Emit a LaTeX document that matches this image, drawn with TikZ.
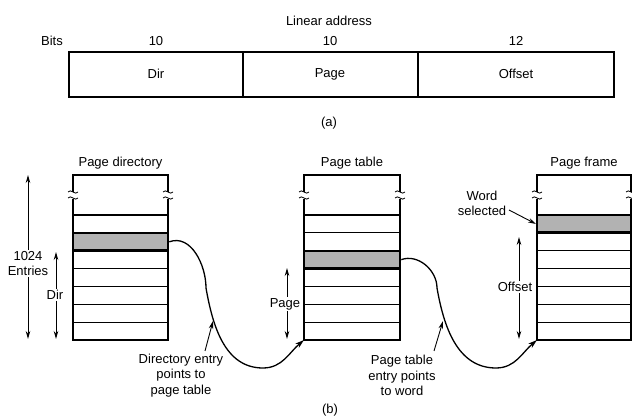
\documentclass[tikz,border=0pt]{standalone}
\usepackage{fontspec}
\setmainfont{Liberation Sans}
\usetikzlibrary{arrows.meta}
\definecolor{rowgray}{RGB}{178,178,178}
\begin{document}
\begin{tikzpicture}[x=1pt,y=-1pt,
  txt/.style={font=\fontsize{13}{15.5}\selectfont,inner sep=1pt,align=center},
  thin/.style={line width=1.2pt},
  selrow/.style={draw,line width=2.6pt,fill=rowgray,minimum width=#1,minimum height=17.5pt,inner sep=0pt},
  arr/.style={line width=0.9pt,-{Stealth[length=8pt,width=4.5pt]}},
  curve/.style={line width=1.3pt,-{Stealth[length=9pt,width=5.5pt]}}
]
\useasboundingbox (0,0) rectangle (632,419);
\def\rh{17.857}
% ---------- (a) ----------
\node[txt] (la) at (329,21) {Linear address};
\node[txt] (bits) at (52,41) {Bits};
\node[txt] (b1) at (156,41) {10};
\node[txt] (b2) at (330,41) {10};
\node[txt] (b3) at (516,41) {12};
\draw[thin] (69,52) rectangle (614,97);
\draw[thin] (243,52) -- (243,97);
\draw[thin] (418,52) -- (418,97);
\node[txt] (fdir) at (156,74) {Dir};
\node[txt] (fpage) at (330,74) {Page};
\node[txt] (foff) at (516,74) {Offset};
\node[txt] (capa) at (329,123) {(a)};
% ---------- tables ----------
\newcommand{\brk}[2]{%
  \draw[line width=0.8pt] (#1-5,#2-2) .. controls (#1-2,#2-6) and (#1+2,#2+2) .. (#1+5,#2-2);
  \draw[line width=0.8pt] (#1-5,#2+4) .. controls (#1-2,#2) and (#1+2,#2+8) .. (#1+5,#2+4);}
\newcommand{\tbl}[2]{%
  \draw[thin] (#1,192) -- (#1,175) -- (#2,175) -- (#2,192);
  \draw[thin] (#1,199) -- (#1,340) -- (#2,340) -- (#2,199);
  \foreach \k in {0,...,6} {\draw[thin] (#1,215+\k*\rh) -- (#2,215+\k*\rh);}
  \brk{#1}{194}\brk{#2}{194}}
\tbl{73}{168}
\tbl{304}{400}
\tbl{537}{631}
\node[selrow=95pt] (g1) at (120.5,215+1.5*\rh) {};
\node[selrow=96pt] (g2) at (352,215+2.5*\rh) {};
\node[selrow=94pt] (g3) at (584,215+0.5*\rh) {};
\coordinate (t2sw) at (304,340);
\coordinate (t3sw) at (537,340);
\coordinate (g3w) at (536,224);
% titles
\node[txt] (tdir) at (120.5,163) {Page directory};
\node[txt] (ttab) at (352,163) {Page table};
\node[txt] (tfr) at (584,163) {Page frame};
% side arrows
\node[txt] (n1024) at (28,263.5) {1024\\Entries};
\coordinate (a1t) at (28,175); \coordinate (a1b) at (28,339);
\draw[arr] (n1024.north) -- (a1t);
\draw[arr] (n1024.south) -- (a1b);
\node[txt] (ndir) at (55,295) {Dir};
\coordinate (a2t) at (56,252); \coordinate (a2b) at (56,339);
\draw[arr] (ndir.north-|a2t) -- (a2t);
\draw[arr] (ndir.south-|a2b) -- (a2b);
\node[txt] (npage) at (285,304) {Page};
\coordinate (a3t) at (287,268); \coordinate (a3b) at (287,339);
\draw[arr] (npage.north-|a3t) -- (a3t);
\draw[arr] (npage.south-|a3b) -- (a3b);
\node[txt] (noff) at (515,287) {Offset};
\coordinate (a4t) at (519,237); \coordinate (a4b) at (519,339);
\draw[arr] (noff.north-|a4t) -- (a4t);
\draw[arr] (noff.south-|a4b) -- (a4b);
% curves
\coordinate (c1m) at (206,288); \coordinate (c1b) at (263,368);
\draw[curve] (g1.east) to[out=20,in=90] (c1m) to[out=-80,in=180] (c1b) to[out=0,in=-140] (t2sw);
\coordinate (c2m) at (437,288); \coordinate (c2b) at (496,368);
\draw[curve] (g2.east) to[out=20,in=90] (c2m) to[out=-80,in=180] (c2b) to[out=0,in=-140] (t3sw);
% annotations
\node[txt] (ann1) at (181,375.5) {Directory entry\\points to\\page table};
\coordinate (p1s) at (205,351); \coordinate (p1e) at (213,321);
\draw[arr] (p1s) -- (p1e);
\node[txt] (ann2) at (402,375.5) {Page table\\entry points\\to word};
\coordinate (p2s) at (434,351); \coordinate (p2e) at (443,321);
\draw[arr] (p2s) -- (p2e);
\node[txt] (ws) at (482,203.5) {Word\\selected};
\coordinate (p3s) at (509,210);
\draw[arr] (p3s) -- (g3w);
\node[txt] (capb) at (330,410) {(b)};
\end{tikzpicture}
\end{document}
